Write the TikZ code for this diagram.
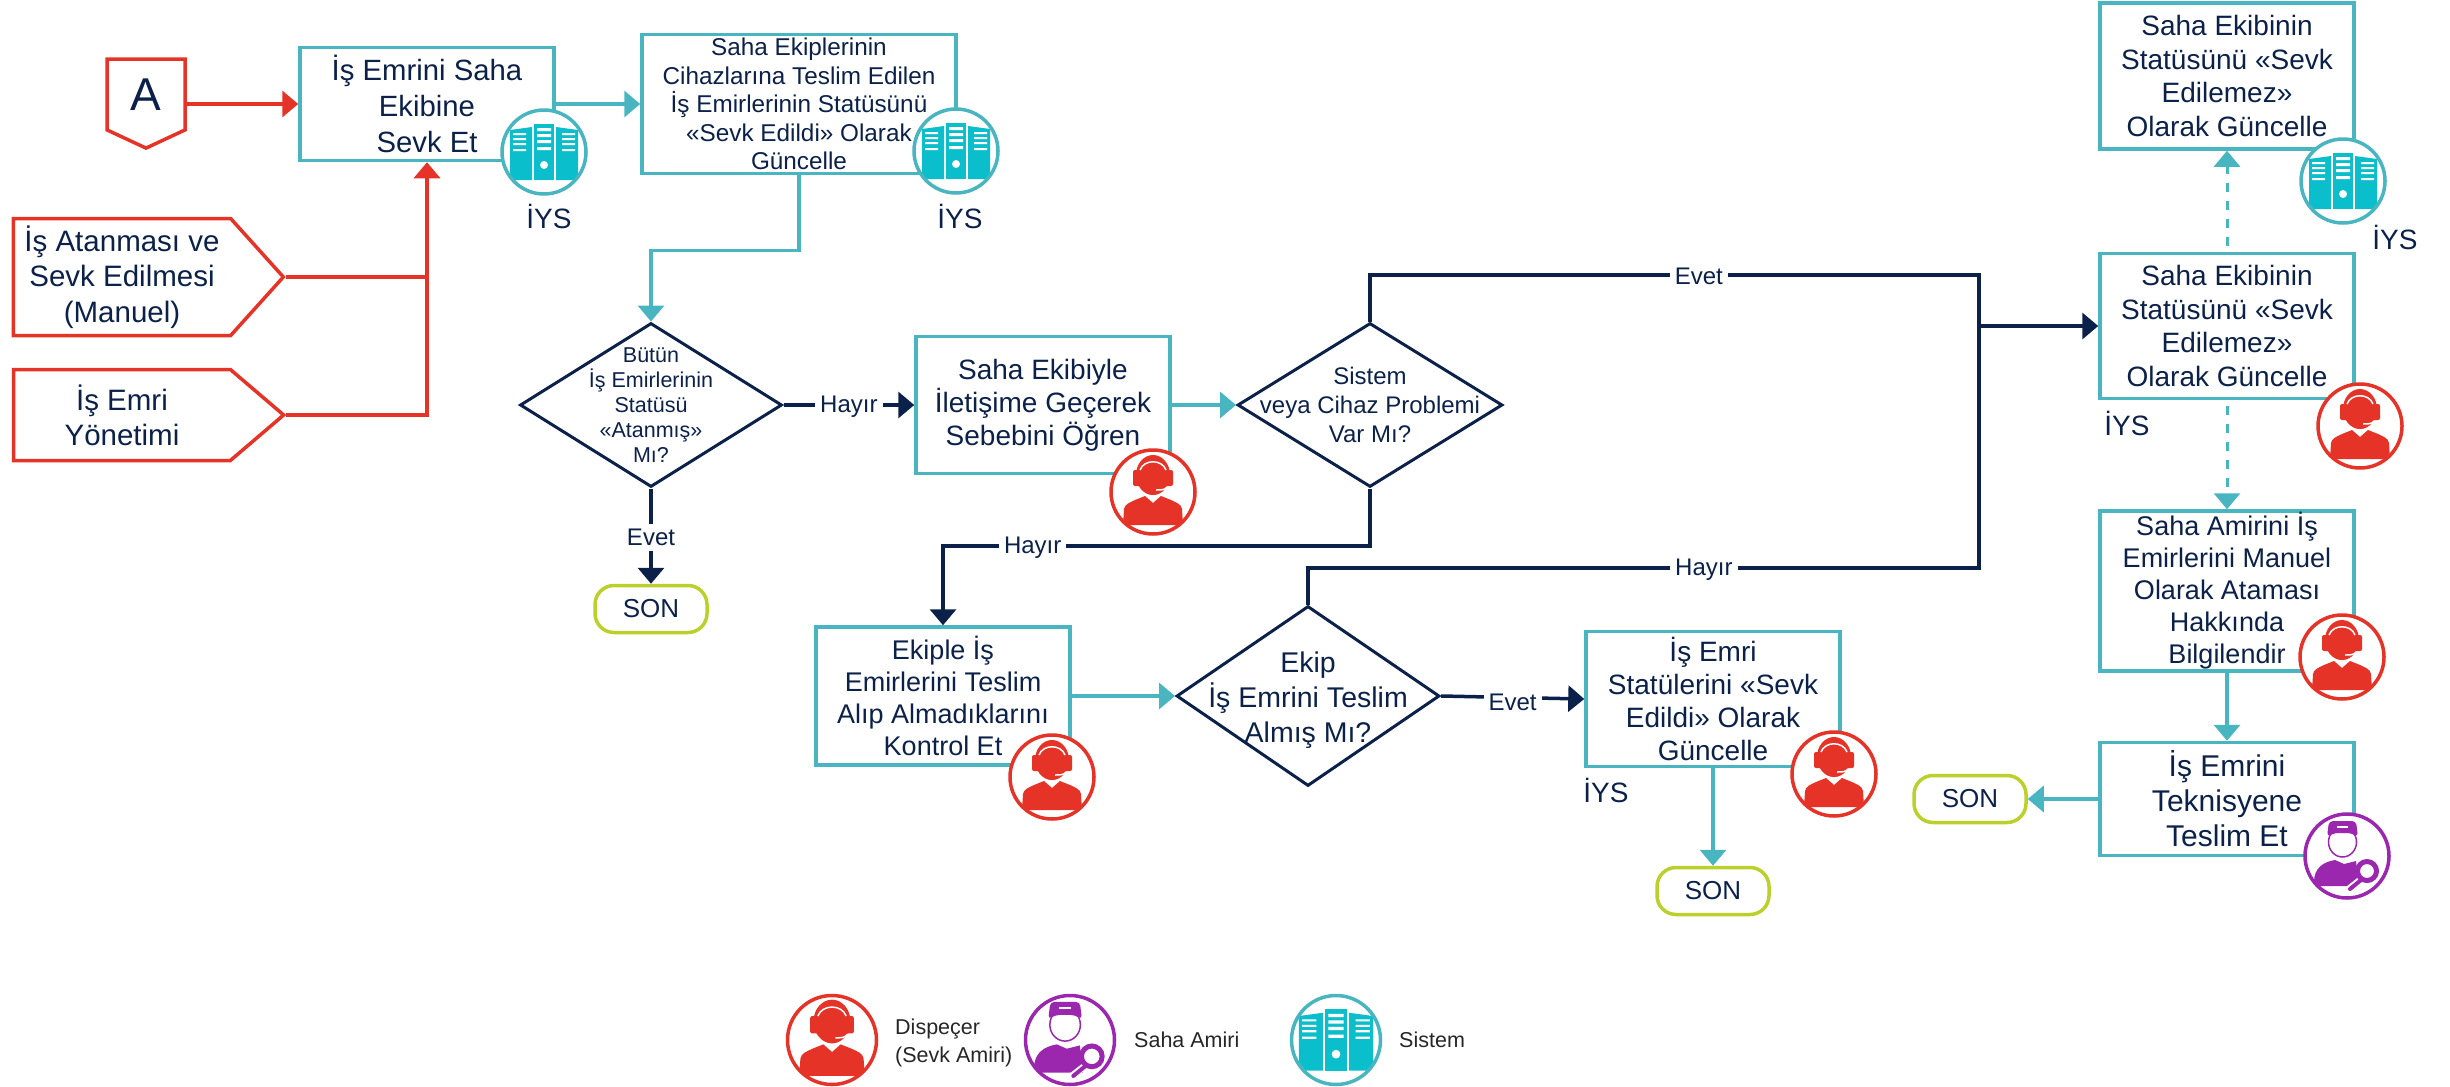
\documentclass[tikz,border=0pt]{standalone}
\usepackage{fontspec}
\setmainfont{Liberation Sans}
\usetikzlibrary{positioning, arrows.meta, shapes.geometric, shapes.symbols}

\definecolor{navy}{HTML}{0B2149}
\definecolor{flowteal}{HTML}{49B5C1}
\definecolor{iconteal}{HTML}{0ABFCB}
\definecolor{tagred}{HTML}{E63327}
\definecolor{endgreen}{HTML}{BCD02C}
\definecolor{amirpurple}{HTML}{9B27AF}

\tikzset{
    iconscale/.initial=1,
    txt/.style 2 args={font=\fontsize{#1}{#2}\selectfont},
    taskbox/.style={draw=flowteal, line width=3.5pt, fill=white, text=navy, inner sep=0pt, align=center, minimum width=254pt},
    decision/.style={diamond, draw=navy, line width=3pt, inner sep=0pt, aspect=1.6},
    endbox/.style={draw=endgreen, line width=3.5pt, rounded corners=19pt, text=navy, txt={26}{30}, minimum width=112pt, minimum height=47pt, inner sep=0pt},
    redtag/.style={signal, signal from=nowhere, draw=tagred, line width=3.5pt, fill=white, text=navy, inner sep=0pt, align=center},
    iystxt/.style={text=navy, txt={28}{32}, inner sep=0pt},
    answer/.style={fill=white, text=navy, txt={24}{28}, inner sep=5pt, yshift=-1.5pt},
    legendtxt/.style={text=black!85, txt={21.5}{28}, align=left, inner sep=0pt, anchor=west},
    tealflow/.style={color=flowteal, line width=3.5pt, ->},
    tealdash/.style={color=flowteal, line width=3pt, ->, dash pattern=on 9pt off 9pt, shorten <=6pt},
    navyflow/.style={color=navy, line width=3.5pt},
    redflow/.style={color=tagred, line width=3.5pt},
    iconbase/.style={circle, line width=3.5pt, fill=white, minimum size=84pt, inner sep=0pt},
    legendsize/.style={minimum size=89pt, iconscale=1.09},
    pics/servers/.style={code={
        \fill[iconteal] (-10,-28) rectangle (10,28);
        \fill[iconteal] (-34,-22) -- (-12,-25) -- (-12,28) -- (-34,28) -- cycle;
        \fill[iconteal] (34,-22) -- (12,-25) -- (12,28) -- (34,28) -- cycle;
        % stripes
        \fill[white] (-7,-24) rectangle (7,-21) (-7,-18) rectangle (7,-15) (-7,-12) rectangle (7,-9) (-7,-5) rectangle (7,-2);
        \fill[white] (-31,-19) rectangle (-18,-17) (-31,-14) rectangle (-18,-12) (-31,-9) rectangle (-18,-7) (-31,-3) rectangle (-18,-1);
        \fill[white] (31,-19) rectangle (18,-17) (31,-14) rectangle (18,-12) (31,-9) rectangle (18,-7) (31,-3) rectangle (18,-1);
        \fill[white] (0,13) circle (4pt);
    }},
    pics/headset/.style={code={
        \fill[tagred] (-30,33) -- (-29,17) .. controls (-28,12) and (-24,11) .. (-18,8) -- (-8,4) -- (0,11) -- (8,4) -- (18,8) .. controls (24,11) and (28,12) .. (29,17) -- (30,33) -- cycle;
        \fill[tagred] (0,-17) ellipse (17pt and 20pt);
        \fill[tagred] (-14,-12) .. controls (-13,-2) and (-6,3) .. (0,3) .. controls (6,3) and (13,-2) .. (14,-12) -- cycle;
        \fill[tagred, rounded corners=2pt] (-20,-22) rectangle (-12,-6) (12,-22) rectangle (20,-6);
        \draw[white, line width=1.5pt] (-13,-22) .. controls (-9,-33) and (9,-33) .. (13,-22);
        \draw[white, line width=1.5pt] (14,-5) .. controls (12,-2) and (8,-2) .. (3,-2);
    }},
    pics/amir/.style={code={
        \fill[amirpurple] (-33,26) .. controls (-33,12) and (-24,6) .. (-12,4) -- (-3,8) -- (9,5) -- (12,30) -- (-28,30) .. controls (-32,30) and (-33,28) .. (-33,26) -- cycle;
        \draw[amirpurple, line width=1.5pt, fill=white] (-4.5,-14) ellipse (14pt and 15pt);
        \fill[amirpurple, rounded corners=4pt] (-20,-19) -- (-18,-35) -- (9,-35) -- (11,-19) -- (4,-23) -- (-13,-23) -- cycle;
        \fill[white] (-10,-30) rectangle (1,-28);
        \draw[white, line width=7pt] (16,22) -- (2,33);
        \draw[amirpurple, line width=4pt, line cap=round] (14,24) -- (3,33);
        \draw[amirpurple, line width=5pt, fill=white] (20,15) circle (9.5pt);
    }},
    sysicon/.style={iconbase, draw=flowteal, path picture={\pic[scale=\pgfkeysvalueof{/tikz/iconscale}] at (path picture bounding box.center) {servers};}},
    dispicon/.style={iconbase, draw=tagred, path picture={\pic[scale=\pgfkeysvalueof{/tikz/iconscale}] at (path picture bounding box.center) {headset};}},
    amiricon/.style={iconbase, draw=amirpurple, path picture={\pic[scale=\pgfkeysvalueof{/tikz/iconscale}] at (path picture bounding box.center) {amir};}},
}

\begin{document}
\begin{tikzpicture}[x=1pt, y=-1pt, on grid, >={Triangle[length=16pt, width=26pt]}]
    \useasboundingbox (0,0) rectangle (2450,1087);

    % Left column
    \node[taskbox, minimum height=113pt, txt={29.3}{36}] (b1) at (427,104) {İş Emrini Saha\\Ekibine\\Sevk Et};
    \node[redtag, signal to=south, signal pointer angle=130, minimum width=78pt, minimum height=78pt, txt={46}{50}] (tagA) at (146,94.5) {A};
    \node[redtag, signal to=east, signal pointer angle=96, minimum width=270pt, minimum height=117pt, txt={29.5}{35.5}] (tagB) at (122,277) {İş Atanması ve\\Sevk Edilmesi\\(Manuel)};
    \node[redtag, signal to=east, signal pointer angle=81, minimum width=270pt, minimum height=91pt, txt={29.5}{35}] (tagC) at (122,415) {İş Emri\\Yönetimi};

    % Upper row
    \node[taskbox, minimum width=314pt, minimum height=139pt, txt={24.3}{28.5}] (b2) [right=372pt of b1] {Saha Ekiplerinin\\Cihazlarına Teslim Edilen\\İş Emirlerinin Statüsünü\\«Sevk Edildi» Olarak\\Güncelle};
    \node[decision, minimum width=262pt, minimum height=164pt, label={[text=navy, txt={21.5}{25}, align=center]center:{Bütün\\İş Emirlerinin\\Statüsü\\«Atanmış»\\Mı?}}] (d1) [below left=301pt and 148pt of b2] {};
    \node[taskbox, minimum height=137pt, txt={28}{33}] (b3) [right=392pt of d1] {Saha Ekibiyle\\İletişime Geçerek\\Sebebini Öğren};
    \node[decision, minimum width=265pt, minimum height=164pt, label={[text=navy, txt={24}{29}, align=center]center:{Sistem\\veya Cihaz Problemi\\Var Mı?}}] (d2) [right=327pt of b3] {};
    \node[endbox] (son1) [below=204pt of d1] {SON};

    % Lower row
    \node[taskbox, minimum height=138pt, txt={27}{32}] (b8) [below left=291pt and 427pt of d2] {Ekiple İş\\Emirlerini Teslim\\Alıp Almadıklarını\\Kontrol Et};
    \node[decision, minimum width=263pt, minimum height=180pt, label={[text=navy, txt={28.5}{35}, align=center, yshift=-4pt]center:{Ekip\\İş Emrini Teslim\\Almış Mı?}}] (d3) [right=365pt of b8] {};
    \node[taskbox, minimum height=135pt, txt={28}{33}] (b9) [below right=3pt and 405pt of d3] {İş Emri\\Statülerini «Sevk\\Edildi» Olarak\\Güncelle};
    \node[endbox] (son2) [below=192pt of b9] {SON};

    % Right column
    \node[taskbox, minimum height=145pt, txt={28}{33.5}] (b4) [above right=79pt and 857pt of d2] {Saha Ekibinin\\Statüsünü «Sevk\\Edilemez»\\Olarak Güncelle};
    \node[taskbox, minimum height=146pt, txt={28}{33.5}] (b5) [above=250pt of b4] {Saha Ekibinin\\Statüsünü «Sevk\\Edilemez»\\Olarak Güncelle};
    \node[taskbox, minimum height=160pt, txt={27}{32}] (b6) [below=265pt of b4] {Saha Amirini İş\\Emirlerini Manuel\\Olarak Ataması\\Hakkında\\Bilgilendir};
    \node[taskbox, minimum height=113pt, txt={30}{35}] (b7) [below=208pt of b6] {İş Emrini\\Teknisyene\\Teslim Et};
    \node[endbox] (son3) [left=257pt of b7] {SON};

    % Bends of the lines
    \coordinate[above=130pt of d2] (busT);
    \coordinate[right=609pt of busT] (busR);
    \coordinate[above=128pt of d3] (busD);
    \coordinate (busB) at (busR |- busD);
    \coordinate[below=141pt of d2] (hayirT);

    % Red transitions
    \draw[redflow, ->] (tagA.east |- b1.west) -- (b1.west);
    \draw[redflow] (tagB.east) -- (tagB.east -| b1.south);
    \draw[redflow, ->] (tagC.east) -| (b1.south);

    % Teal transitions
    \path[tealflow]
        (b1) edge (b2)
        (b3) edge (d2)
        (b8) edge (d3)
        (b9) edge (son2)
        (b6) edge (b7)
        (b7) edge (son3);
    \draw[tealflow] (b2.south) -- ++(0,75) -| (d1.north);
    \draw[tealdash] (b4.north) -- (b5.south);
    \draw[tealdash] (b4.south) -- (b6.north);

    % Decisions
    \draw[navyflow, ->] (d1.east) -- node[answer] {Hayır} (b3.west);
    \draw[navyflow, ->] (d1.south) -- node[answer] {Evet} (son1.north);
    \draw[navyflow, ->] (d3.east) -- node[answer, yshift=-3pt] {Evet} (b9.west);
    \draw[navyflow, ->] (d2.south) -- (hayirT) -- node[answer, pos=.79] {Hayır} (hayirT -| b8.north) -- (b8.north);
    \draw[navyflow] (d2.north) -- (busT) -- node[answer, pos=.54] {Evet} (busR) -- (busB) -- node[answer, pos=.41] {Hayır} (busD) -- (d3.north);
    \draw[navyflow, ->] (busR |- b4.west) -- (b4.west);

    % Role icons
    \node[sysicon] (ic1) [below right=48pt and 117pt of b1] {};
    \node[sysicon] (ic2) [below right=47pt and 157pt of b2] {};
    \node[dispicon] (ic3) [below right=87pt and 110pt of b3] {};
    \node[dispicon] (ic8) [below right=81pt and 109pt of b8] {};
    \node[dispicon] (ic9) [below right=75pt and 121pt of b9] {};
    \node[sysicon] (ic5) [below right=105pt and 116pt of b5] {};
    \node[dispicon] (ic4) [below right=100pt and 133pt of b4] {};
    \node[dispicon] (ic6) [below right=66pt and 115pt of b6] {};
    \node[amiricon] (ic7) [below right=57pt and 120pt of b7] {};

    \node[iystxt] (iys1) [below right=64pt and 5pt of ic1] {İYS};
    \node[iystxt] (iys2) [below right=65pt and 4pt of ic2] {İYS};
    \node[iystxt] (iys5) [below right=56pt and 52pt of ic5] {İYS};
    \node[iystxt] (iys4) [below left=97pt and 100pt of b4] {İYS};
    \node[iystxt] (iys9) [below left=91pt and 107pt of b9] {İYS};

    % Legend
    \node[dispicon, legendsize] (legD) at (832,1040) {};
    \node[amiricon, legendsize] (legA) [right=238pt of legD] {};
    \node[sysicon, legendsize] (legS) [right=266pt of legA] {};
    \node[legendtxt] (txtD) [below right=3pt and 63pt of legD, anchor=west] {Dispeçer\\(Sevk Amiri)};
    \node[legendtxt] (txtA) [right=64pt of legA, anchor=west] {Saha Amiri};
    \node[legendtxt] (txtS) [right=63pt of legS, anchor=west] {Sistem};
\end{tikzpicture}
\end{document}
